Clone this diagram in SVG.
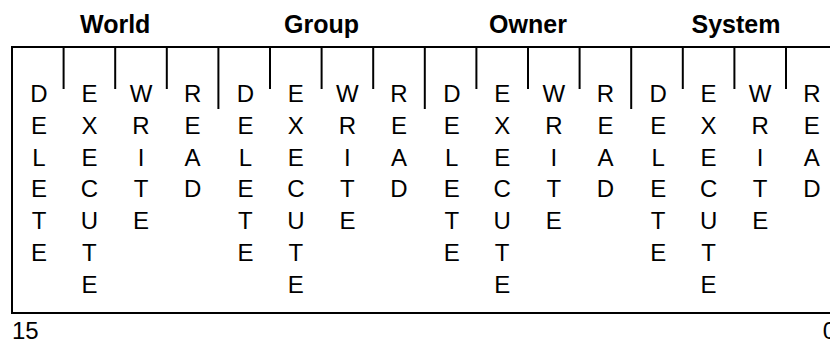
<svg xmlns="http://www.w3.org/2000/svg" width="830" height="350" viewBox="0 0 830 350">
<style>
.t{font-family:"Liberation Sans",Arial,sans-serif;font-size:25px;font-weight:bold;text-anchor:middle;fill:#000}
.b{font-family:"Liberation Sans",Arial,sans-serif;font-size:24px;text-anchor:middle;fill:#000}
.n{font-family:"Liberation Sans",Arial,sans-serif;font-size:24px;fill:#000}
.ln{stroke:#000;stroke-width:2;fill:none}
</style>
<rect width="830" height="350" fill="#fff"/>
<g id="frame" class="ln">
<rect x="12" y="47" width="825.6" height="266"/>
</g>
<g id="connectors" class="ln">
<line x1="63.6" y1="47" x2="63.6" y2="89"/>
<line x1="115.2" y1="47" x2="115.2" y2="89"/>
<line x1="166.8" y1="47" x2="166.8" y2="89"/>
<line x1="218.4" y1="47" x2="218.4" y2="109"/>
<line x1="270" y1="47" x2="270" y2="89"/>
<line x1="321.6" y1="47" x2="321.6" y2="89"/>
<line x1="373.2" y1="47" x2="373.2" y2="89"/>
<line x1="424.8" y1="47" x2="424.8" y2="109"/>
<line x1="476.4" y1="47" x2="476.4" y2="89"/>
<line x1="528" y1="47" x2="528" y2="89"/>
<line x1="579.6" y1="47" x2="579.6" y2="89"/>
<line x1="631.2" y1="47" x2="631.2" y2="109"/>
<line x1="682.8" y1="47" x2="682.8" y2="89"/>
<line x1="734.4" y1="47" x2="734.4" y2="89"/>
<line x1="786" y1="47" x2="786" y2="89"/>
</g>
<g id="world">
<text class="t" x="115.2" y="33">World</text>
<text class="b" y="102"><tspan x="39">D</tspan><tspan x="39" dy="31.8">E</tspan><tspan x="39" dy="31.8">L</tspan><tspan x="39" dy="31.8">E</tspan><tspan x="39" dy="31.8">T</tspan><tspan x="39" dy="31.8">E</tspan></text>
<text class="b" y="102"><tspan x="89.4">E</tspan><tspan x="89.4" dy="31.8">X</tspan><tspan x="89.4" dy="31.8">E</tspan><tspan x="89.4" dy="31.8">C</tspan><tspan x="89.4" dy="31.8">U</tspan><tspan x="89.4" dy="31.8">T</tspan><tspan x="89.4" dy="31.8">E</tspan></text>
<text class="b" y="102"><tspan x="141">W</tspan><tspan x="141" dy="31.8">R</tspan><tspan x="141" dy="31.8">I</tspan><tspan x="141" dy="31.8">T</tspan><tspan x="141" dy="31.8">E</tspan></text>
<text class="b" y="102"><tspan x="192.6">R</tspan><tspan x="192.6" dy="31.8">E</tspan><tspan x="192.6" dy="31.8">A</tspan><tspan x="192.6" dy="31.8">D</tspan></text>
</g>
<g id="group">
<text class="t" x="321.6" y="33">Group</text>
<text class="b" y="102"><tspan x="245.4">D</tspan><tspan x="245.4" dy="31.8">E</tspan><tspan x="245.4" dy="31.8">L</tspan><tspan x="245.4" dy="31.8">E</tspan><tspan x="245.4" dy="31.8">T</tspan><tspan x="245.4" dy="31.8">E</tspan></text>
<text class="b" y="102"><tspan x="295.8">E</tspan><tspan x="295.8" dy="31.8">X</tspan><tspan x="295.8" dy="31.8">E</tspan><tspan x="295.8" dy="31.8">C</tspan><tspan x="295.8" dy="31.8">U</tspan><tspan x="295.8" dy="31.8">T</tspan><tspan x="295.8" dy="31.8">E</tspan></text>
<text class="b" y="102"><tspan x="347.4">W</tspan><tspan x="347.4" dy="31.8">R</tspan><tspan x="347.4" dy="31.8">I</tspan><tspan x="347.4" dy="31.8">T</tspan><tspan x="347.4" dy="31.8">E</tspan></text>
<text class="b" y="102"><tspan x="399">R</tspan><tspan x="399" dy="31.8">E</tspan><tspan x="399" dy="31.8">A</tspan><tspan x="399" dy="31.8">D</tspan></text>
</g>
<g id="owner">
<text class="t" x="528" y="33">Owner</text>
<text class="b" y="102"><tspan x="451.8">D</tspan><tspan x="451.8" dy="31.8">E</tspan><tspan x="451.8" dy="31.8">L</tspan><tspan x="451.8" dy="31.8">E</tspan><tspan x="451.8" dy="31.8">T</tspan><tspan x="451.8" dy="31.8">E</tspan></text>
<text class="b" y="102"><tspan x="502.2">E</tspan><tspan x="502.2" dy="31.8">X</tspan><tspan x="502.2" dy="31.8">E</tspan><tspan x="502.2" dy="31.8">C</tspan><tspan x="502.2" dy="31.8">U</tspan><tspan x="502.2" dy="31.8">T</tspan><tspan x="502.2" dy="31.8">E</tspan></text>
<text class="b" y="102"><tspan x="553.8">W</tspan><tspan x="553.8" dy="31.8">R</tspan><tspan x="553.8" dy="31.8">I</tspan><tspan x="553.8" dy="31.8">T</tspan><tspan x="553.8" dy="31.8">E</tspan></text>
<text class="b" y="102"><tspan x="605.4">R</tspan><tspan x="605.4" dy="31.8">E</tspan><tspan x="605.4" dy="31.8">A</tspan><tspan x="605.4" dy="31.8">D</tspan></text>
</g>
<g id="system">
<text class="t" x="736" y="33">System</text>
<text class="b" y="102"><tspan x="658.2">D</tspan><tspan x="658.2" dy="31.8">E</tspan><tspan x="658.2" dy="31.8">L</tspan><tspan x="658.2" dy="31.8">E</tspan><tspan x="658.2" dy="31.8">T</tspan><tspan x="658.2" dy="31.8">E</tspan></text>
<text class="b" y="102"><tspan x="708.6">E</tspan><tspan x="708.6" dy="31.8">X</tspan><tspan x="708.6" dy="31.8">E</tspan><tspan x="708.6" dy="31.8">C</tspan><tspan x="708.6" dy="31.8">U</tspan><tspan x="708.6" dy="31.8">T</tspan><tspan x="708.6" dy="31.8">E</tspan></text>
<text class="b" y="102"><tspan x="760.2">W</tspan><tspan x="760.2" dy="31.8">R</tspan><tspan x="760.2" dy="31.8">I</tspan><tspan x="760.2" dy="31.8">T</tspan><tspan x="760.2" dy="31.8">E</tspan></text>
<text class="b" y="102"><tspan x="811.8">R</tspan><tspan x="811.8" dy="31.8">E</tspan><tspan x="811.8" dy="31.8">A</tspan><tspan x="811.8" dy="31.8">D</tspan></text>
</g>
<g id="bit-numbers">
<text class="n" x="12" y="339">15</text>
<text class="n" x="836" y="339" text-anchor="end">0</text>
</g>
</svg>
